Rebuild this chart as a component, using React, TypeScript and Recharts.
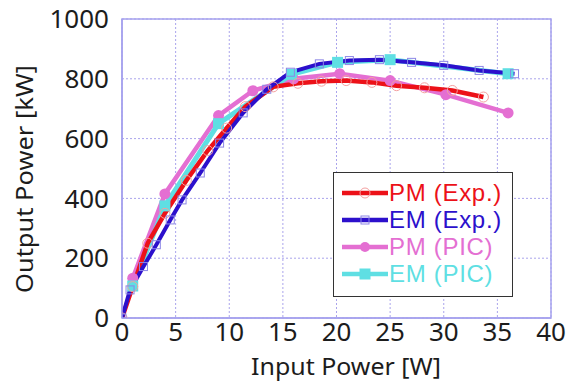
import React from "react";
import {
  LineChart,
  Line,
  XAxis,
  YAxis,
  CartesianGrid,
  ReferenceArea,
} from "recharts";

// input power [W] / output power [kW]
const pmExpX = [0, 1, 2.4, 4, 6, 8, 9.75, 11.5, 14.1, 16.4, 18.6, 20.9, 23.3, 25.6, 28.2, 30.8, 33.7];
const pmExpY = [0, 105, 250, 350, 460, 560, 635, 707, 773, 785, 792, 794, 788, 777, 770, 761, 739];

const emExpX = [0, 0.75, 2, 3.2, 4.5, 5.6, 7.3, 9.1, 11.3, 13.5, 15.7, 18.4, 21.2, 24, 27, 30, 33.3, 36.6];
const emExpY = [0, 94, 172, 245, 328, 395, 485, 585, 686, 765, 822, 850, 861, 864, 855, 845, 828, 817];

const pmPicX = [1, 4, 9, 12.2, 16, 20.3, 25, 30.2, 36];
const pmPicY = [133, 415, 677, 760, 800, 817, 794, 747, 686];

const emPicX = [1, 4, 9, 15.8, 20.1, 25, 36];
const emPicY = [107, 375, 650, 815, 855, 864, 817];

const xTicks = [0, 5, 10, 15, 20, 25, 30, 35, 40];
const yTicks = [0, 200, 400, 600, 800, 1000];

const legendNames = ["PM (Exp.)", "EM (Exp.)", "PM (PIC)", "EM (PIC)"];

const RED = "#ec1118";
const BLUE = "#2c10cc";
const MAGENTA = "#e46fd2";
const CYAN = "#5fdfe3";

const toPts = (xs: number[], ys: number[]) => xs.map((x, i) => ({ x, y: ys[i] }));

const pmExp = toPts(pmExpX, pmExpY);
const emExp = toPts(emExpX, emExpY);
const pmPic = toPts(pmPicX, pmPicY);
const emPic = toPts(emPicX, emPicY);

const font = "'Noto Sans', 'Open Sans', sans-serif";
const legendFont = "'Liberation Sans', Arial, sans-serif";

const hollowSquare = (p: any) => (
  <rect key={`es-${p.index}`} x={p.cx - 4} y={p.cy - 4} width={8} height={8} fill="none" stroke="#8c86e6" strokeWidth={1} />
);
const solidSquare = (p: any) => (
  <rect key={`cs-${p.index}`} x={p.cx - 5.5} y={p.cy - 5.5} width={11} height={11} fill={CYAN} />
);

const legendRows = [
  { color: RED, marker: <circle cx={23} cy={9} r={5} fill="none" stroke="#f4a0a0" strokeWidth={1} /> },
  { color: BLUE, marker: <rect x={19} y={5} width={8} height={8} fill="none" stroke="#8c86e6" strokeWidth={1} /> },
  { color: MAGENTA, marker: <circle cx={23} cy={9} r={5} fill={MAGENTA} /> },
  { color: CYAN, marker: <rect x={17.5} y={3.5} width={11} height={11} fill={CYAN} /> },
];

export default function App() {
  return (
    <div style={{ position: "absolute", left: 0, top: 0, width: 568, height: 383, background: "#fff", fontFamily: font }}>
      <LineChart width={568} height={383} margin={{ top: 19, right: 17, bottom: 0, left: 0 }}>
        <CartesianGrid stroke="#aaa4ec" strokeDasharray="2 2" strokeWidth={1} />
        <XAxis
          type="number"
          dataKey="x"
          domain={[0, 40]}
          ticks={xTicks}
          allowDataOverflow
          height={65}
          tickLine={false}
          tickSize={0}
          tickMargin={5}
          axisLine={{ stroke: "#a6a2ee", strokeWidth: 1.5 }}
          tick={{ fontSize: 26, fill: "#1c1c1c", fontFamily: font }}
          label={{
            content: () => (
              <text
                x={346}
                y={375}
                textAnchor="middle"
                fontSize={24}
                textLength={190}
                lengthAdjust="spacingAndGlyphs"
                fill="#1c1c1c"
                fontFamily={font}
              >
                Input Power [W]
              </text>
            ),
          }}
        />
        <YAxis
          type="number"
          domain={[0, 1000]}
          ticks={yTicks}
          allowDataOverflow
          width={122}
          tickLine={false}
          tickSize={0}
          tickMargin={13}
          axisLine={{ stroke: "#a6a2ee", strokeWidth: 1.5 }}
          tick={{ fontSize: 26, fill: "#1c1c1c", fontFamily: font }}
          label={{
            content: () => (
              <text
                x={24}
                y={179}
                transform="rotate(-90, 24, 179)"
                textAnchor="middle"
                dominantBaseline="central"
                fontSize={23}
                textLength={228}
                lengthAdjust="spacingAndGlyphs"
                fill="#1c1c1c"
                fontFamily={font}
              >
                Output Power [kW]
              </text>
            ),
          }}
        />
        <ReferenceArea x1={0} x2={40} y1={0} y2={1000} fill="none" stroke="#a6a2ee" strokeWidth={1.5} />
        <Line data={pmPic} dataKey="y" type="linear" stroke={MAGENTA} strokeWidth={4.5} dot={{ r: 5.5, fill: MAGENTA, stroke: "none" }} isAnimationActive={false} />
        <Line data={emPic} dataKey="y" type="linear" stroke={CYAN} strokeWidth={5} dot={solidSquare} isAnimationActive={false} />
        <Line data={pmExp} dataKey="y" type="linear" stroke={RED} strokeWidth={4.5} dot={{ r: 5, fill: "none", stroke: "#f4a0a0", strokeWidth: 1 }} isAnimationActive={false} />
        <Line data={emExp} dataKey="y" type="linear" stroke={BLUE} strokeWidth={4} dot={hollowSquare} isAnimationActive={false} />
      </LineChart>
      <div
        style={{
          position: "absolute",
          left: 333,
          top: 172,
          width: 180,
          height: 125,
          boxSizing: "border-box",
          border: "1.5px solid #333",
          background: "#fff",
          padding: "6px 0 0 8px",
        }}
      >
        {legendRows.map((row, i) => (
          <div key={legendNames[i]} style={{ display: "flex", alignItems: "center", height: 27 }}>
            <svg width={46} height={18} style={{ flex: "none" }}>
              <line x1={0} y1={9} x2={46} y2={9} stroke={row.color} strokeWidth={4.5} />
              {row.marker}
            </svg>
            <span
              style={{
                display: "block",
                color: row.color,
                fontFamily: legendFont,
                fontSize: 24,
                lineHeight: "27px",
                height: 27,
                whiteSpace: "nowrap",
                marginLeft: 1,
                letterSpacing: 0.7,
              }}
            >
              {legendNames[i]}
            </span>
          </div>
        ))}
      </div>
    </div>
  );
}
